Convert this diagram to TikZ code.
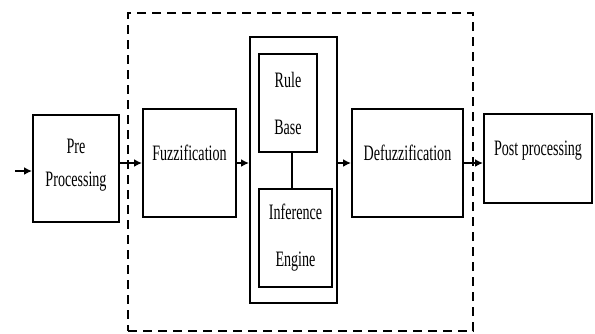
\documentclass[tikz,border=0pt]{standalone}
\usepackage{fontspec}
\setmainfont[FakeStretch=0.64]{Liberation Serif}
\usepackage{tikz}
\usetikzlibrary{positioning,arrows.meta}
\tikzset{
    fuzzbox/.style={draw, line width=2pt, rectangle, align=center, inner sep=0pt, font=\fontsize{22}{33}\selectfont},
    fuzzhigh/.style={fuzzbox, text depth=20pt},
    fuzztall/.style={fuzzbox, font=\fontsize{22}{47}\selectfont},
    fuzzframe/.style={draw, line width=2pt, dash pattern=on 9pt off 6pt, inner sep=0pt},
    fuzzarrow/.style={draw, line width=2pt, -{Latex[length=8pt,width=8pt]}},
    fuzzline/.style={draw, line width=2pt}
}
\begin{document}
\begin{tikzpicture}[x=1pt, y=-1pt]
    \useasboundingbox (0,0) rectangle (595,333);
    \node[fuzzframe, minimum width=345pt, minimum height=318pt] (fis) at (300.5,172) {};
    \node[fuzzbox, minimum width=86pt, minimum height=107pt, text depth=12pt] (pre) at (76,168.5) {Pre\\Processing};
    \node[fuzzhigh, minimum width=93pt, minimum height=108pt] (fuzz) at (189.5,163) {Fuzzification};
    \node[fuzzbox, minimum width=87pt, minimum height=266pt] (infer) at (293.5,170) {};
    \node[fuzztall, minimum width=58pt, minimum height=98pt] (rule) at (288,103) {Rule\\Base};
    \node[fuzztall, minimum width=73pt, minimum height=98pt] (engine) at (295.5,238) {Inference\\Engine};
    \node[fuzzhigh, minimum width=111pt, minimum height=108pt] (defuzz) at (407.5,163) {Defuzzification};
    \node[fuzzhigh, minimum width=108pt, minimum height=89pt] (post) at (538,158.5) {Post processing};
    \coordinate (src) at (15,171);

    \draw[fuzzarrow] (src) -- (src -| pre.west);
    \draw[fuzzarrow] (pre.east |- fuzz) -- (fuzz.west);
    \draw[fuzzarrow] (fuzz.east) -- (fuzz.east -| infer.west);
    \draw[fuzzarrow] (infer.east |- defuzz) -- (defuzz.west);
    \draw[fuzzarrow] (defuzz.east) -- (defuzz.east -| post.west);
    \draw[fuzzline] ([xshift=4pt]rule.south) -- ([xshift=4pt]rule.south |- engine.north);
\end{tikzpicture}
\end{document}
